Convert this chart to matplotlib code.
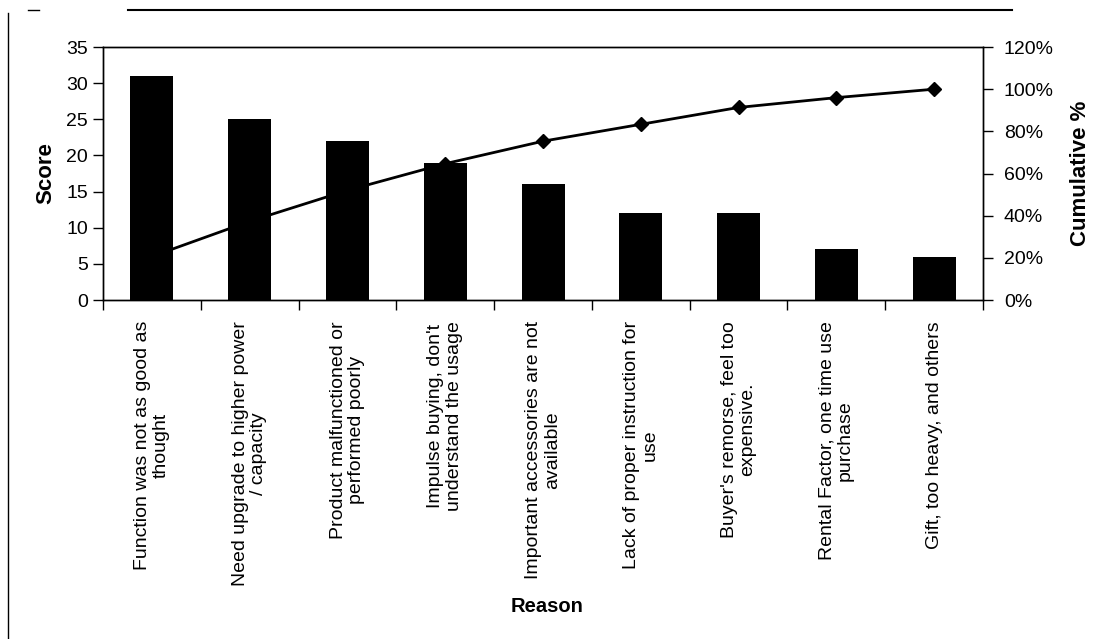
import matplotlib
matplotlib.use("Agg")
import matplotlib.pyplot as plt
from matplotlib.lines import Line2D
from matplotlib.ticker import FuncFormatter, FixedLocator
import numpy as np

reasons = [
    "Function was not as good as\nthought",
    "Need upgrade to higher power\n/ capacity",
    "Product malfunctioned or\nperformed poorly",
    "Impulse buying, don't\nunderstand the usage",
    "Important accessories are not\navailable",
    "Lack of proper instruction for\nuse",
    "Buyer's remorse, feel too\nexpensive.",
    "Rental Factor, one time use\npurchase",
    "Gift, too heavy, and others",
]
scores = [31, 25, 22, 19, 16, 12, 12, 7, 6]
score_ticks = [0, 5, 10, 15, 20, 25, 30, 35]
pct_ticks = [0.0, 0.2, 0.4, 0.6, 0.8, 1.0, 1.2]

cumulative = np.cumsum(scores) / np.sum(scores)

plt.rcParams["font.family"] = ["Liberation Sans", "DejaVu Sans"]
plot_bg = "#c6c6c6"

fig = plt.figure(figsize=(11.02, 6.39), dpi=100)
ax = fig.add_axes([0.0935, 0.5305, 0.7985, 0.3959])

x = np.arange(len(scores))
ax.bar(x, scores, width=0.44, color="black", zorder=3)
ax.set_xlim(-0.5, len(scores) - 0.5)
ax.set_ylim(0, 35)
ax.set_yticks(score_ticks)
ax.tick_params(axis="y", labelsize=14, length=7, width=1, direction="out", pad=4)

# category ticks sit on the boundaries between bars
ax.xaxis.set_major_locator(FixedLocator(np.arange(-0.5, len(scores), 1.0)))
ax.xaxis.set_major_formatter(FuncFormatter(lambda v, p: ""))
ax.tick_params(axis="x", length=7, width=1, direction="out")
for xi, lab in zip(x, reasons):
    ax.text(xi, -0.083, lab, transform=ax.get_xaxis_transform(), rotation=90,
            ha="center", va="top", multialignment="center", fontsize=14,
            linespacing=1.12)

ax.set_ylabel("Score", fontsize=16, fontweight="bold", labelpad=7)
fig.text(547 / 1102, 1 - 606 / 639, "Reason", ha="center", va="center",
         fontsize=14.5, fontweight="bold")

ax2 = ax.twinx()
ax2.set_ylim(0, 1.2)
ax2.set_yticks(pct_ticks)
ax2.yaxis.set_major_formatter(FuncFormatter(lambda v, p: f"{v * 100:.0f}%"))
ax2.tick_params(axis="y", labelsize=14, length=7, width=1, direction="out", pad=8)
ax2.set_ylabel("Cumulative %", fontsize=16, fontweight="bold", labelpad=12)
ax2.plot(x, cumulative, color="black", lw=2, marker="D", markersize=7, zorder=1)

# keep the cumulative line behind the bars
ax.set_zorder(ax2.get_zorder() + 1)
ax.patch.set_visible(False)
ax2.set_facecolor(plot_bg)

for a in (ax, ax2):
    for s in a.spines.values():
        s.set_linewidth(1)
        s.set_color("black")

# outer frame lines around the chart
fig.add_artist(Line2D([0.0075, 0.0075], [0.0, 0.98], color="black", lw=1,
                      transform=fig.transFigure))
fig.add_artist(Line2D([0.116, 0.918], [0.984, 0.984], color="black", lw=1.5,
                      transform=fig.transFigure))
fig.add_artist(Line2D([0.025, 0.035], [0.985, 0.985], color="black", lw=1,
                      transform=fig.transFigure))

fig.savefig("out.png", dpi=100, facecolor="white")
